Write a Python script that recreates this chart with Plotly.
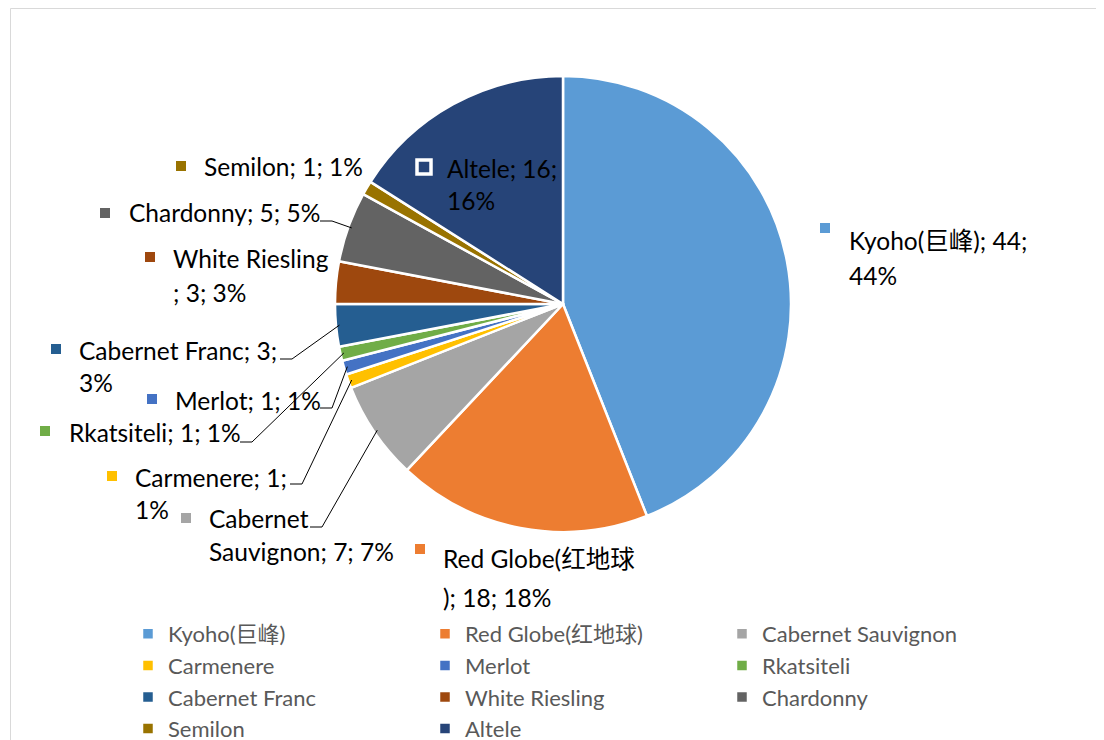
import math
import plotly.graph_objects as go

# ---------------- data ----------------
CATEGORIES = ["Kyoho(巨峰)", "Red Globe(红地球)", "Cabernet Sauvignon", "Carmenere", "Merlot",
              "Rkatsiteli", "Cabernet Franc", "White Riesling", "Chardonny", "Semilon", "Altele"]
VALUES = [44, 18, 7, 1, 1, 1, 3, 3, 5, 1, 16]

# ---------------- style ----------------
COLORS = ["#5B9BD5", "#ED7D31", "#A5A5A5", "#FFC000", "#4472C4", "#70AD47",
          "#255E91", "#9E480E", "#636363", "#997300", "#264478"]

# page offset (body margin) and figure size
OFF = 8
W, H = 1104 - OFF, 740 - OFF
CX, CY, R = 563, 304, 228          # screen pixels
FONT = "Lato, 'Noto Sans CJK SC', sans-serif"
LABEL_SIZE = 24.5
LEG_SIZE = 22

# label layout (screen pixels): text left x, first-line centre y, line gap, split index,
# marker centre, leader (start x, y) or None
LABEL_LAYOUT = {
    "Kyoho(巨峰)":        dict(tx=847, ty=240, gap=35, split=14, mk=(825, 228), lead=None),
    "Red Globe(红地球)":   dict(tx=441, ty=558, gap=39, split=13, mk=(420, 549), lead=None),
    "Cabernet Sauvignon": dict(tx=207, ty=518, gap=33, split=8, mk=(186, 518), lead=(310, 527)),
    "Carmenere":          dict(tx=133, ty=477, gap=32, split=13, mk=(112, 476), lead=(290, 484)),
    "Merlot":             dict(tx=173, ty=400, gap=33, split=None, mk=(152, 399), lead=(320, 408)),
    "Rkatsiteli":         dict(tx=67, ty=432, gap=33, split=None, mk=(45, 431), lead=(240, 442)),
    "Cabernet Franc":     dict(tx=77, ty=350, gap=33, split=18, mk=(56, 349), lead=(280, 359)),
    "White Riesling":     dict(tx=171, ty=258, gap=34, split=14, mk=(150, 257), lead=None),
    "Chardonny":          dict(tx=127, ty=213, gap=33, split=None, mk=(105, 213), lead=(320, 221)),
    "Semilon":            dict(tx=202, ty=167, gap=33, split=None, mk=(181, 166), lead=None),
    "Altele":             dict(tx=445, ty=168, gap=32, split=11, mk=(424, 167), lead=None),
}


def px(x):
    return (x - OFF) / W


def py(y):
    return 1 - (y - OFF) / H


fig = go.Figure(go.Pie(
    labels=CATEGORIES,
    values=VALUES,
    sort=False,
    direction="clockwise",
    rotation=0,
    marker=dict(colors=COLORS, line=dict(color="white", width=2.5)),
    textinfo="none",
    hoverinfo="label+value+percent",
    domain=dict(x=[px(CX - R), px(CX + R)], y=[py(CY + R), py(CY - R)]),
))

total = sum(VALUES)
annotations = []
shapes = []

# chart border
shapes.append(dict(type="rect", xref="paper", yref="paper",
                   x0=px(10.5), x1=px(1110), y0=py(750), y1=py(8.5),
                   line=dict(color="#D9D9D9", width=1), fillcolor="rgba(0,0,0,0)", layer="below"))

cum = 0
for name, val, col in zip(CATEGORIES, VALUES, COLORS):
    lay = LABEL_LAYOUT[name]
    pct = round(100 * val / total)
    text = f"{name}; {val}; {pct}%"
    if lay["split"] is not None:
        lines = [text[:lay["split"]].strip(), text[lay["split"]:].strip()]
    else:
        lines = [text]
    for i, ln in enumerate(lines):
        annotations.append(dict(
            x=px(lay["tx"]), y=py(lay["ty"] + i * lay["gap"]), xref="paper", yref="paper",
            text=ln, showarrow=False, xanchor="left", yanchor="middle",
            font=dict(family=FONT, size=LABEL_SIZE, color="#000000")))
    mx, my = lay["mk"]
    if name == "Altele":
        shapes.append(dict(type="rect", xref="paper", yref="paper",
                           x0=px(mx - 7), x1=px(mx + 7), y0=py(my + 7), y1=py(my - 7),
                           fillcolor=col, line=dict(color="white", width=3.5)))
    else:
        shapes.append(dict(type="rect", xref="paper", yref="paper",
                           x0=px(mx - 5), x1=px(mx + 5), y0=py(my + 5), y1=py(my - 5),
                           fillcolor=col, line=dict(width=0)))
    # leader line from label to slice edge
    theta = 2 * math.pi * (cum + val / 2) / total
    ax = CX + R * 0.985 * math.sin(theta)
    ay = CY - R * 0.985 * math.cos(theta)
    if lay["lead"] is not None:
        lx, ly = lay["lead"]
        path = f"M {px(lx)} {py(ly)} L {px(lx + 12)} {py(ly)} L {px(ax)} {py(ay)}"
        shapes.append(dict(type="path", xref="paper", yref="paper", path=path,
                           line=dict(color="#000000", width=1)))
    cum += val

fig.update_layout(
    width=W, height=H,
    margin=dict(l=0, r=0, t=0, b=0, autoexpand=False),
    paper_bgcolor="white",
    showlegend=True,
    legend=dict(orientation="h", x=px(128), y=py(613), xanchor="left", yanchor="top",
                entrywidth=252, entrywidthmode="pixels", traceorder="normal",
                font=dict(family=FONT, size=LEG_SIZE, color="#595959"),
                bgcolor="rgba(0,0,0,0)"),
    annotations=annotations,
    shapes=shapes,
)

fig.write_html("out.html")
